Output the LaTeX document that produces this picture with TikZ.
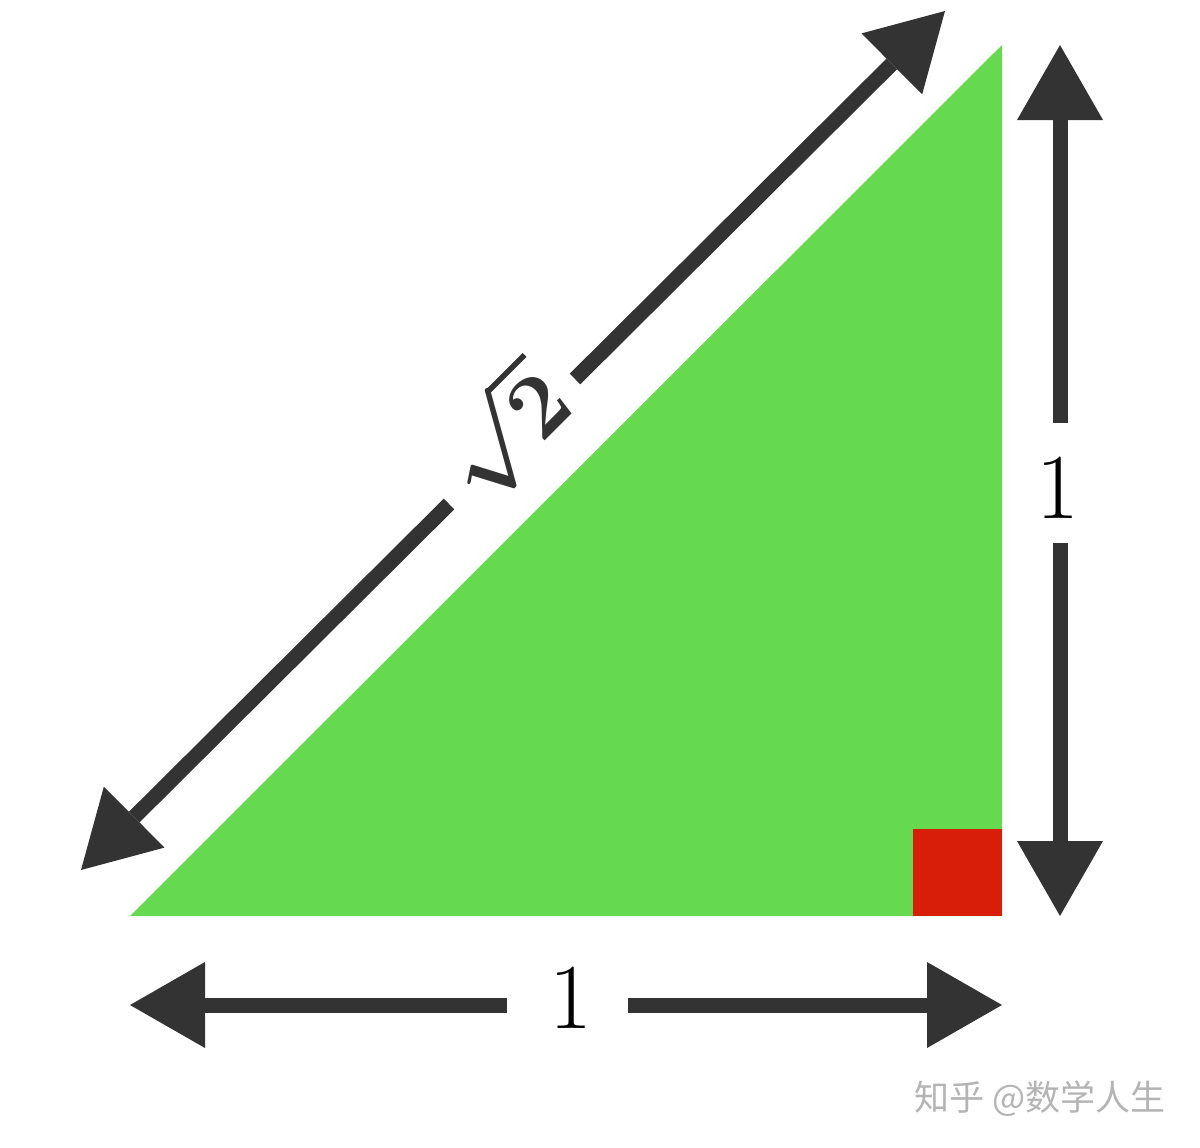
\documentclass[tikz,border=0pt]{standalone}
\usepackage{fontspec}
\newfontfamily\cjk{Noto Sans CJK SC}
\usetikzlibrary{arrows.meta}
\definecolor{trigreen}{RGB}{102,218,78}
\definecolor{angred}{RGB}{216,30,8}
\definecolor{dimgray}{RGB}{51,51,51}
\definecolor{wmgray}{RGB}{180,180,180}
\tikzset{
  dimline/.style={draw=dimgray, line width=15pt,
    -{Triangle[length=75pt,width=86pt,line width=0pt]}},
  numlabel/.style={inner sep=0pt, font=\fontsize{93}{93}\selectfont},
  rootlabel/.style={inner sep=0pt, rotate=45, scale=3.65, text=dimgray, font=\Huge\boldmath},
}
\begin{document}
\begin{tikzpicture}[x=1pt,y=-1pt]
\useasboundingbox (0,0) rectangle (1200,1148);
% triangle and right-angle mark
\fill[trigreen] (130,916) -- (1002,916) -- (1002,45) -- cycle;
\fill[angred] (913,829) rectangle (1002,916);
% horizontal dimension
\coordinate (H1) at (130,1005);
\coordinate (H2) at (1002,1005);
\coordinate (HL) at (507,1005);
\coordinate (HR) at (628,1005);
\node[numlabel] (hlab) at (571,998) {1};
\draw[dimline] (HL) -- (H1);
\draw[dimline] (HR) -- (H2);
% vertical dimension
\coordinate (V1) at (1060,45);
\coordinate (V2) at (1060,916);
\coordinate (VT) at (1060,423);
\coordinate (VB) at (1060,543);
\node[numlabel] (vlab) at (1058,488) {1};
\draw[dimline] (VT) -- (V1);
\draw[dimline] (VB) -- (V2);
% diagonal dimension
\coordinate (D1) at (81,870);
\coordinate (D2) at (945,11);
\coordinate (DL) at (449,504);
\coordinate (DU) at (575,379);
\node[rootlabel] (dlab) at (504,432) {$\sqrt{2}$};
\draw[dimline] (DL) -- (D1);
\draw[dimline] (DU) -- (D2);
% watermark
\node[inner sep=0pt, text=wmgray, font=\cjk\fontsize{35}{35}\selectfont] (wm) at (1040,1099) {知乎 @数学人生};
\end{tikzpicture}
\end{document}
